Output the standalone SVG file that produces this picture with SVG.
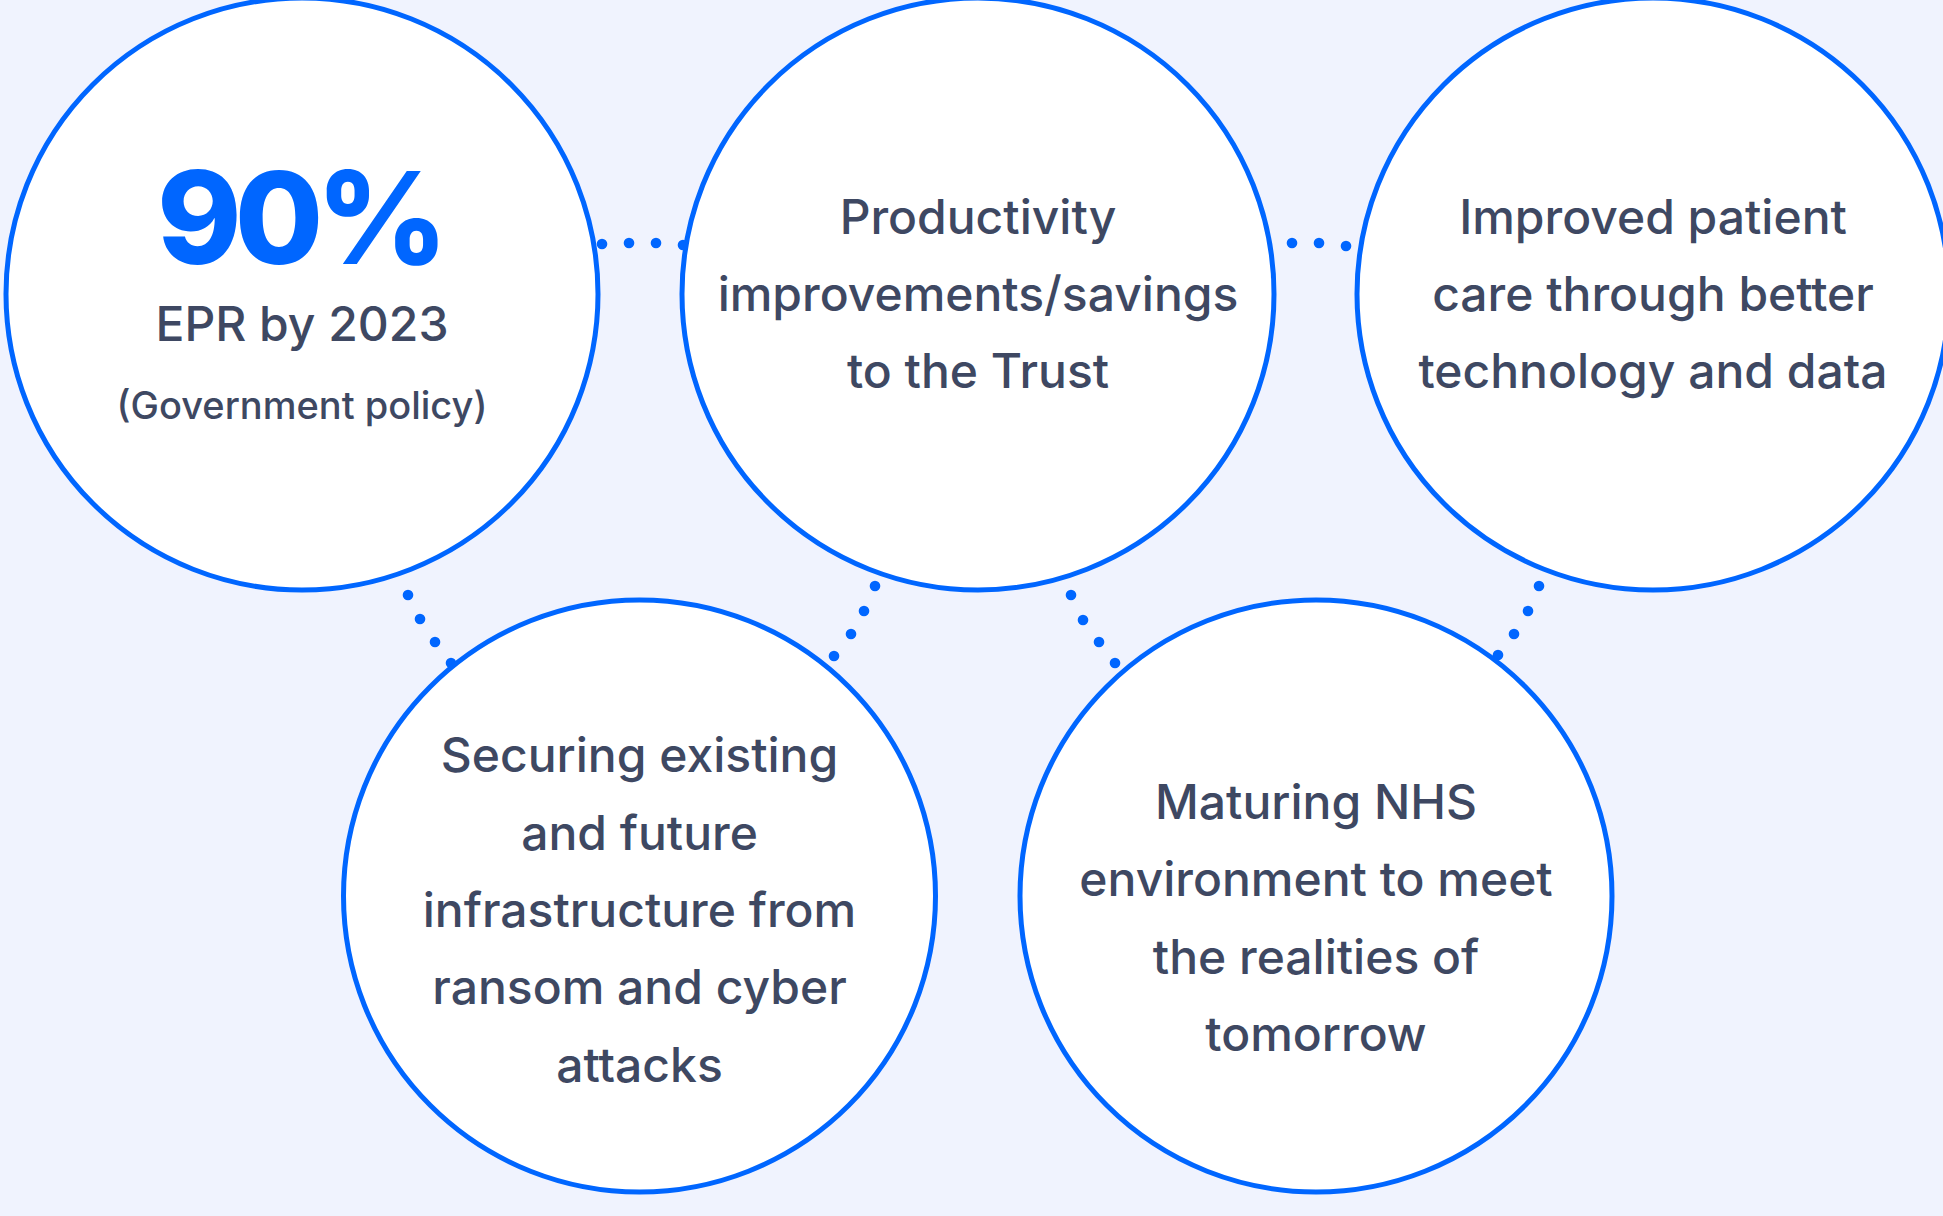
<svg xmlns="http://www.w3.org/2000/svg" width="1943" height="1216" viewBox="0 0 1943 1216">
  <style>
    .node { fill: #FFFFFF; stroke: #0066FF; stroke-width: 5; }
    .t { font-family: Inter, "Noto Sans", "Liberation Sans", sans-serif; font-size: 48px; font-weight: 500; fill: #3E4862; text-anchor: middle; }
    .big { font-family: Inter, "Noto Sans", "Liberation Sans", sans-serif; font-size: 128px; font-weight: 800; fill: #0066FF; text-anchor: middle; letter-spacing: -7px; }
    .small { font-size: 38px; }
    .dot { fill: #0066FF; }
  </style>
  <rect x="0" y="0" width="1943" height="1216" fill="#F0F3FE"/>

  <g id="connectors">
    <circle class="dot" cx="602" cy="244" r="5.3"/>
    <circle class="dot" cx="629" cy="243" r="5.3"/>
    <circle class="dot" cx="656" cy="243" r="5.3"/>
    <circle class="dot" cx="683" cy="245" r="5.3"/>

    <circle class="dot" cx="1292" cy="243" r="5.3"/>
    <circle class="dot" cx="1319" cy="243" r="5.3"/>
    <circle class="dot" cx="1346" cy="246" r="5.3"/>

    <circle class="dot" cx="408" cy="595" r="5.3"/>
    <circle class="dot" cx="420" cy="619" r="5.3"/>
    <circle class="dot" cx="435" cy="642" r="5.3"/>
    <circle class="dot" cx="451" cy="663" r="5.3"/>

    <circle class="dot" cx="875" cy="586" r="5.3"/>
    <circle class="dot" cx="864" cy="611" r="5.3"/>
    <circle class="dot" cx="851" cy="634" r="5.3"/>
    <circle class="dot" cx="834" cy="656" r="5.3"/>

    <circle class="dot" cx="1071" cy="595" r="5.3"/>
    <circle class="dot" cx="1083" cy="620" r="5.3"/>
    <circle class="dot" cx="1099" cy="642" r="5.3"/>
    <circle class="dot" cx="1115" cy="663" r="5.3"/>

    <circle class="dot" cx="1539" cy="586" r="5.3"/>
    <circle class="dot" cx="1528" cy="611" r="5.3"/>
    <circle class="dot" cx="1514" cy="634" r="5.3"/>
    <circle class="dot" cx="1498" cy="655" r="5.3"/>
  </g>

  <g id="node-epr">
    <circle class="node" cx="302" cy="294" r="296"/>
    <text class="big" x="299" y="264">90%</text>
    <text class="t" x="302" y="341">EPR by 2023</text>
    <text class="t small" x="302" y="419">(Government policy)</text>
  </g>

  <g id="node-productivity">
    <circle class="node" cx="978" cy="294" r="296"/>
    <text class="t" x="978" y="234">Productivity</text>
    <text class="t" x="978" y="311">improvements/savings</text>
    <text class="t" x="978" y="388">to the Trust</text>
  </g>

  <g id="node-patient-care">
    <circle class="node" cx="1653" cy="294" r="296"/>
    <text class="t" x="1653" y="234">Improved patient</text>
    <text class="t" x="1653" y="311">care through better</text>
    <text class="t" x="1653" y="388">technology and data</text>
  </g>

  <g id="node-securing">
    <circle class="node" cx="639.5" cy="896" r="296"/>
    <text class="t" x="639.5" y="772">Securing existing</text>
    <text class="t" x="639.5" y="849.5">and future</text>
    <text class="t" x="639.5" y="927">infrastructure from</text>
    <text class="t" x="639.5" y="1004">ransom and cyber</text>
    <text class="t" x="639.5" y="1082">attacks</text>
  </g>

  <g id="node-maturing">
    <circle class="node" cx="1316" cy="896" r="296"/>
    <text class="t" x="1316" y="818.5">Maturing NHS</text>
    <text class="t" x="1316" y="896">environment to meet</text>
    <text class="t" x="1316" y="973.5">the realities of</text>
    <text class="t" x="1316" y="1050.5">tomorrow</text>
  </g>
</svg>
